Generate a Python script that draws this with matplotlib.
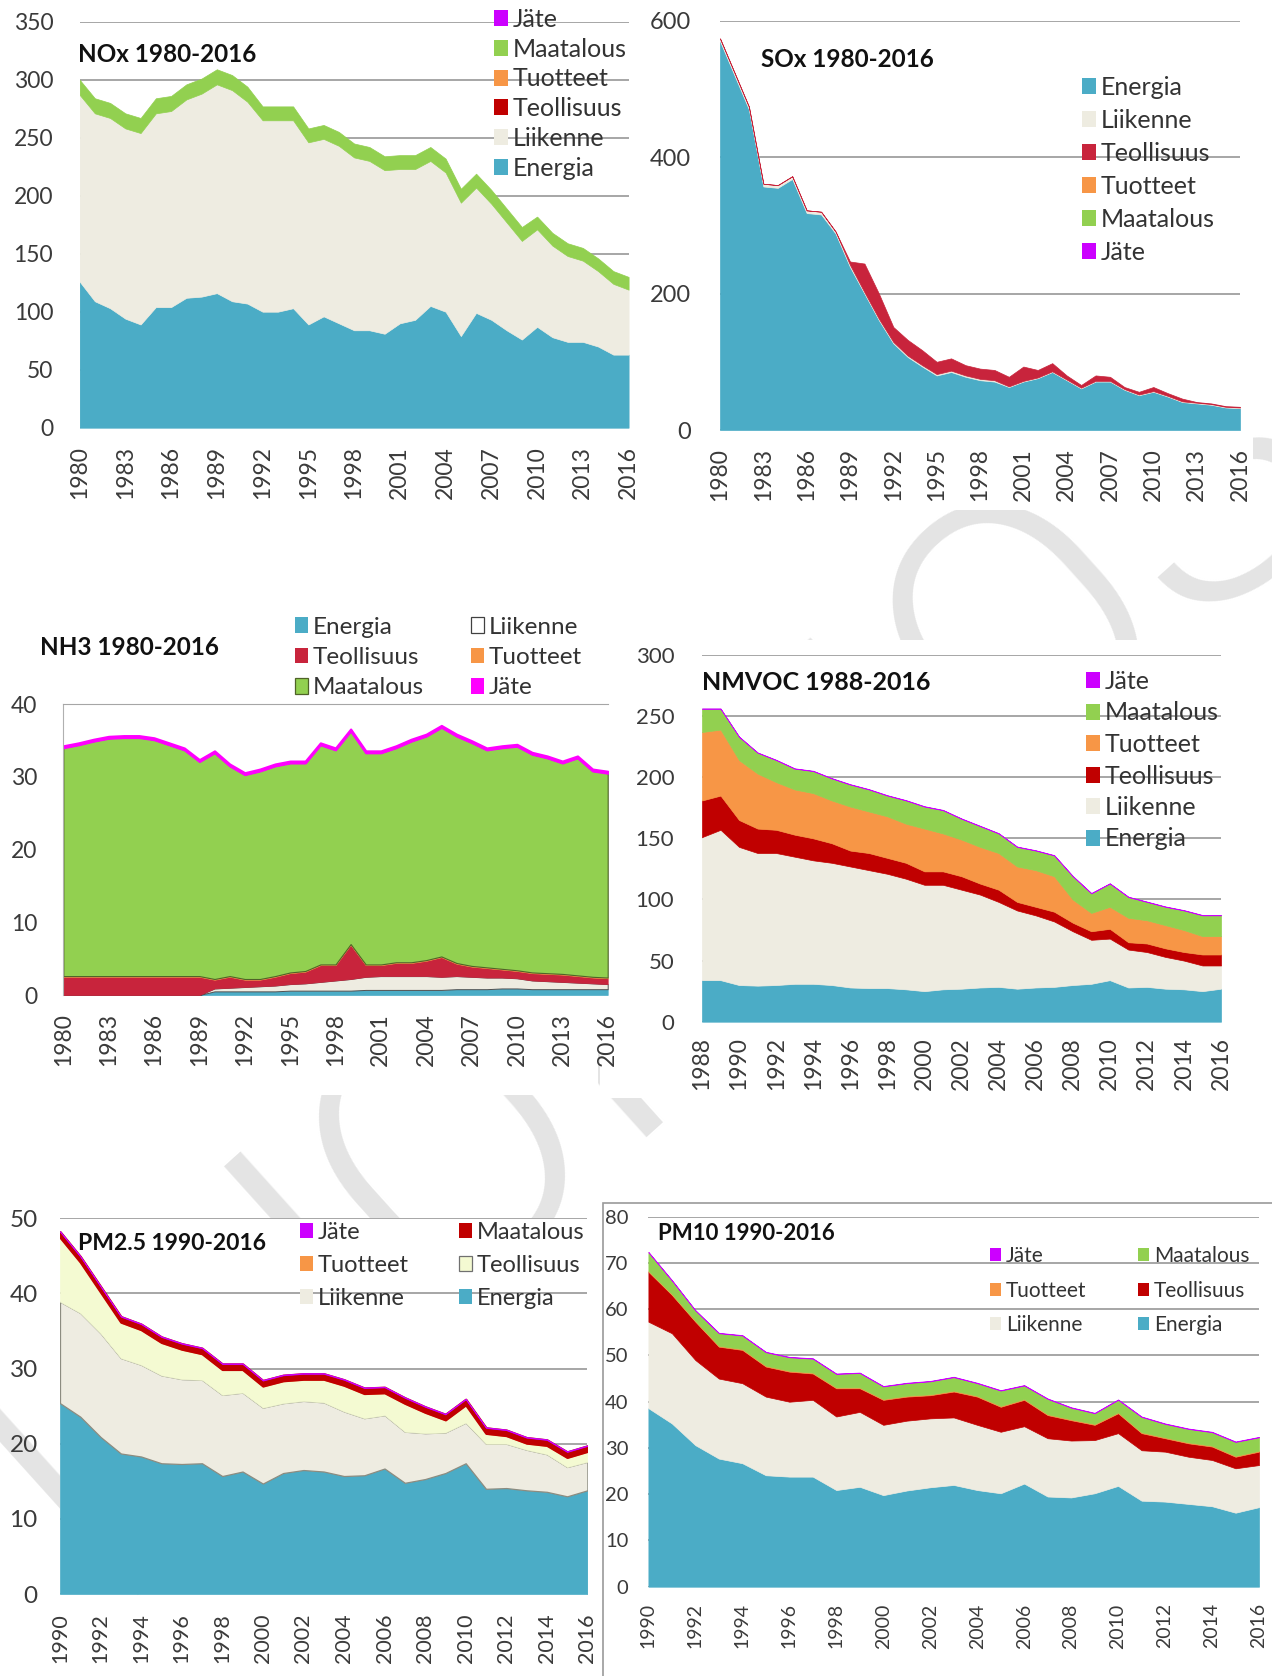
import matplotlib
matplotlib.use('Agg')
import matplotlib.pyplot as plt
from matplotlib.patches import Patch, Rectangle

plt.rcParams['font.family'] = ['Lato', 'DejaVu Sans']

W, H = 1272, 1676

# --- vuodet ---
years_80 = list(range(1980, 2017))
years_88 = list(range(1988, 2017))
years_90 = list(range(1990, 2017))

# --- NOx 1980-2016 (kt) ---
nox_energia = [126, 109, 103, 94, 89, 104, 104, 112, 113, 116,
               109, 107, 100, 100, 103, 89, 96, 90, 84, 84,
               81, 90, 93, 105, 100, 79, 99, 93, 84, 76,
               87, 78, 74, 74, 70, 63, 63]
nox_liikenne = [161, 162, 164, 164, 165, 167, 169, 171, 175, 180,
                182, 174, 165, 165, 162, 157, 153, 153, 149, 146,
                141, 133, 130, 125, 120, 115, 108, 100, 93, 85,
                84, 79, 74, 70, 65, 61, 56]
nox_teollisuus = [0, 0, 0, 0, 0, 0, 0, 0, 0, 0, 0, 0, 0, 0, 0, 0, 0, 0, 0,
                  0, 0, 0, 0, 0, 0, 0, 0, 0, 0, 0, 0, 0, 0, 0, 0, 0, 0]
nox_tuotteet = [0, 0, 0, 0, 0, 0, 0, 0, 0, 0, 0, 0, 0, 0, 0, 0, 0, 0, 0,
                0, 0, 0, 0, 0, 0, 0, 0, 0, 0, 0, 0, 0, 0, 0, 0, 0, 0]
nox_maatalous = [13, 13, 13, 13, 13, 13, 13, 13, 13, 13,
                 13, 13, 12, 12, 12, 12, 12, 12, 12, 12,
                 12, 12, 12, 12, 12, 12, 12, 12, 12, 12,
                 11, 11, 11, 11, 11, 11, 11]
nox_jate = [0, 0, 0, 0, 0, 0, 0, 0, 0, 0, 0, 0, 0, 0, 0, 0, 0, 0, 0,
            0, 0, 0, 0, 0, 0, 0, 0, 0, 0, 0, 0, 0, 0, 0, 0, 0, 0]

# --- SOx 1980-2016 ---
sox_energia = [570, 520, 470, 357, 355, 368, 318, 316, 288, 239,
               200, 161, 127, 107, 93, 80, 85, 78, 73, 71,
               63, 71, 76, 85, 73, 61, 71, 71, 59, 51,
               56, 49, 41, 39, 37, 33, 32]
sox_liikenne = [4, 4, 4, 4, 4, 4, 4, 4, 3, 3,
                2, 2, 2, 2, 2, 2, 2, 2, 2, 2,
                1, 1, 1, 1, 1, 1, 1, 1, 1, 1,
                1, 1, 1, 1, 1, 1, 1]
sox_teollisuus = [0, 0, 0, 0, 0, 0, 0, 0, 0, 5,
                  42, 37, 22, 23, 22, 18, 18, 15, 15, 15,
                  14, 21, 11, 12, 6, 4, 8, 6, 3, 4,
                  6, 4, 4, 1, 1, 1, 1]
sox_tuotteet = [0, 0, 0, 0, 0, 0, 0, 0, 0, 0, 0, 0, 0, 0, 0, 0, 0, 0, 0,
                0, 0, 0, 0, 0, 0, 0, 0, 0, 0, 0, 0, 0, 0, 0, 0, 0, 0]
sox_maatalous = [0, 0, 0, 0, 0, 0, 0, 0, 0, 0, 0, 0, 0, 0, 0, 0, 0, 0, 0,
                 0, 0, 0, 0, 0, 0, 0, 0, 0, 0, 0, 0, 0, 0, 0, 0, 0, 0]
sox_jate = [0, 0, 0, 0, 0, 0, 0, 0, 0, 0, 0, 0, 0, 0, 0, 0, 0, 0, 0,
            0, 0, 0, 0, 0, 0, 0, 0, 0, 0, 0, 0, 0, 0, 0, 0, 0, 0]

# --- NH3 1980-2016 ---
nh3_energia = [0, 0, 0, 0, 0, 0, 0, 0, 0, 0,
               0.5, 0.5, 0.5, 0.5, 0.5, 0.6, 0.6, 0.6, 0.6, 0.6,
               0.7, 0.7, 0.7, 0.7, 0.7, 0.7, 0.8, 0.8, 0.8, 0.9,
               0.9, 0.8, 0.8, 0.8, 0.8, 0.8, 0.8]
nh3_liikenne = [0, 0, 0, 0, 0, 0, 0, 0, 0, 0,
                0.4, 0.5, 0.6, 0.7, 0.8, 0.9, 1.0, 1.2, 1.4, 1.6,
                1.8, 1.9, 1.9, 1.9, 1.9, 1.8, 1.8, 1.7, 1.6, 1.5,
                1.4, 1.2, 1.1, 1.0, 0.9, 0.8, 0.7]
nh3_teollisuus = [2.5, 2.5, 2.5, 2.5, 2.5, 2.5, 2.5, 2.5, 2.5, 2.5,
                  1.2, 1.5, 1.0, 0.9, 1.2, 1.5, 1.6, 2.3, 2.1, 4.7,
                  1.6, 1.5, 1.8, 1.8, 2.1, 2.7, 1.7, 1.4, 1.3, 1.1,
                  1.0, 1.0, 1.0, 1.0, 0.9, 0.8, 0.8]
nh3_tuotteet = [0.1, 0.1, 0.1, 0.1, 0.1, 0.1, 0.1, 0.1, 0.1, 0.1,
                0.1, 0.1, 0.1, 0.1, 0.1, 0.1, 0.1, 0.1, 0.1, 0.1,
                0.1, 0.1, 0.1, 0.1, 0.1, 0.1, 0.1, 0.1, 0.1, 0.1,
                0.1, 0.1, 0.1, 0.1, 0.1, 0.1, 0.1]
nh3_maatalous = [31.4, 31.8, 32.3, 32.7, 32.8, 32.8, 32.5, 31.8, 31.1, 29.5,
                 31.1, 28.9, 28.1, 28.6, 28.9, 28.8, 28.6, 30.2, 29.5, 29.3,
                 29.1, 29.1, 29.5, 30.4, 30.8, 31.5, 31.2, 30.7, 29.9, 30.4,
                 30.8, 30.0, 29.6, 29.0, 29.9, 28.3, 28.1]
nh3_jate = [0.25, 0.25, 0.25, 0.25, 0.25, 0.25, 0.25, 0.25, 0.25, 0.25,
            0.25, 0.25, 0.25, 0.25, 0.25, 0.25, 0.25, 0.25, 0.25, 0.25,
            0.25, 0.25, 0.25, 0.25, 0.25, 0.25, 0.25, 0.25, 0.25, 0.25,
            0.25, 0.25, 0.25, 0.25, 0.25, 0.25, 0.25]

# --- NMVOC 1988-2016 ---
nmvoc_energia = [34, 34, 30, 29.5, 30, 31, 31, 30, 28, 27.5,
                 27.5, 26.5, 25, 26.5, 27, 28, 28.5, 27, 28, 28.5,
                 30, 31, 34, 28, 28.5, 27, 26.5, 25, 27]
nmvoc_liikenne = [117, 123, 113, 108.5, 108, 104, 101, 100, 99, 96.5,
                  93.5, 90.5, 87, 85.5, 81, 76, 69.5, 64, 59, 53.5,
                  44, 36, 34, 31, 28.5, 26, 23.5, 21, 19]
nmvoc_teollisuus = [30, 28, 22, 20, 19, 18, 18, 16, 13, 14,
                    13, 13, 11, 11, 11, 9, 10, 7, 7, 8,
                    7, 7, 8, 6, 7, 7, 7, 9, 9]
nmvoc_tuotteet = [56, 54, 49, 45, 39, 37, 37, 35, 36, 34,
                  34, 32, 35, 31, 30, 30, 30, 29, 30, 29,
                  19, 15, 18, 20, 19, 19, 18, 15, 15]
nmvoc_maatalous = [19, 17, 19, 17, 18, 17, 18, 18, 18, 18,
                   17, 19, 18, 19, 17, 17, 16, 16, 16, 17,
                   19, 16, 19, 17, 15, 15, 16, 17, 17]
nmvoc_jate = [0.3, 0.3, 0.3, 0.3, 0.3, 0.3, 0.3, 0.3, 0.3, 0.3,
              0.3, 0.3, 0.3, 0.3, 0.3, 0.3, 0.3, 0.3, 0.3, 0.3,
              0.3, 0.3, 0.3, 0.3, 0.3, 0.3, 0.3, 0.3, 0.3]

# --- PM2.5 1990-2016 ---
pm25_energia = [25.4, 23.6, 20.9, 18.7, 18.3, 17.4, 17.3, 17.4, 15.7, 16.3,
                14.7, 16.1, 16.5, 16.3, 15.7, 15.8, 16.7, 14.8, 15.3, 16.1,
                17.4, 14.0, 14.1, 13.8, 13.6, 13.0, 13.8]
pm25_liikenne = [13.5, 13.8, 13.8, 12.7, 12.2, 11.7, 11.3, 11.1, 10.8, 10.5,
                 10.1, 9.3, 9.2, 9.2, 8.6, 7.6, 7.1, 6.8, 6.1, 5.4,
                 5.4, 6.0, 5.9, 5.4, 5.0, 3.9, 3.8]
pm25_teollisuus = [8.5, 6.7, 5.4, 4.7, 4.6, 4.3, 3.9, 3.4, 3.3, 3.0,
                   2.8, 2.9, 2.8, 3.0, 3.4, 3.2, 2.9, 3.7, 2.7, 1.6,
                   2.3, 1.3, 1.0, 0.8, 1.1, 1.2, 1.3]
pm25_tuotteet = [0.1, 0.1, 0.1, 0.1, 0.1, 0.1, 0.1, 0.1, 0.1, 0.1,
                 0.1, 0.1, 0.1, 0.1, 0.1, 0.1, 0.1, 0.1, 0.1, 0.1,
                 0.1, 0.1, 0.1, 0.1, 0.1, 0.1, 0.1]
pm25_maatalous = [0.7, 0.7, 0.7, 0.7, 0.7, 0.7, 0.7, 0.7, 0.7, 0.7,
                  0.7, 0.7, 0.7, 0.7, 0.7, 0.7, 0.7, 0.7, 0.7, 0.7,
                  0.7, 0.7, 0.7, 0.7, 0.7, 0.7, 0.7]
pm25_jate = [0.1, 0.1, 0.1, 0.1, 0.1, 0.1, 0.1, 0.1, 0.1, 0.1,
             0.1, 0.1, 0.1, 0.1, 0.1, 0.1, 0.1, 0.1, 0.1, 0.1,
             0.1, 0.1, 0.1, 0.1, 0.1, 0.1, 0.1]

# --- PM10 1990-2016 ---
pm10_energia = [38.6, 35.3, 30.6, 27.7, 26.7, 24.1, 23.8, 23.8, 20.9, 21.6,
                19.8, 20.8, 21.5, 22.0, 20.9, 20.2, 22.3, 19.5, 19.3, 20.2,
                21.8, 18.6, 18.4, 17.9, 17.4, 16.0, 17.2]
pm10_liikenne = [18.7, 19.5, 18.4, 17.3, 17.3, 17.0, 16.2, 16.6, 15.9, 16.2,
                 15.2, 15.1, 14.9, 14.6, 14.1, 13.3, 12.4, 12.6, 12.3, 11.5,
                 11.4, 10.9, 10.8, 10.2, 10.0, 9.6, 9.1]
pm10_teollisuus = [10.8, 8.3, 8.3, 6.9, 7.2, 6.5, 6.5, 5.7, 6.1, 5.1,
                   5.4, 5.2, 5.0, 5.6, 6.1, 5.4, 5.7, 5.0, 4.4, 3.3,
                   4.3, 3.7, 2.9, 2.9, 2.9, 2.5, 2.9]
pm10_tuotteet = [0.2, 0.2, 0.2, 0.2, 0.2, 0.2, 0.2, 0.2, 0.2, 0.2,
                 0.2, 0.2, 0.2, 0.2, 0.2, 0.2, 0.2, 0.2, 0.2, 0.2,
                 0.2, 0.2, 0.2, 0.2, 0.2, 0.2, 0.2]
pm10_maatalous = [4.0, 2.9, 2.2, 2.7, 2.9, 2.9, 2.9, 3.0, 2.9, 3.1,
                  2.7, 2.7, 2.8, 2.9, 2.7, 3.3, 2.9, 3.3, 2.5, 2.3,
                  2.7, 3.3, 2.9, 2.9, 2.9, 3.0, 2.9]
pm10_jate = [0.1, 0.1, 0.1, 0.1, 0.1, 0.1, 0.1, 0.1, 0.1, 0.1,
             0.1, 0.1, 0.1, 0.1, 0.1, 0.1, 0.1, 0.1, 0.1, 0.1,
             0.1, 0.1, 0.1, 0.1, 0.1, 0.1, 0.1]

# värit
C_EN = '#4BACC6'
C_LI = '#EEECE1'
C_TE = '#C00000'
C_TE2 = '#C8243C'
C_TU = '#F79646'
C_MA = '#92D050'
C_JA = '#CC00FF'
C_JA2 = '#FF00FF'
C_YEL = '#F4FAD2'

fig = plt.figure(figsize=(W / 100, H / 100), dpi=100)
fig.patch.set_facecolor('white')


def fx(x):
    return x / W


def fy(y):
    return 1 - y / H


def rect(x0, y0, x1, y1):
    return [fx(x0), fy(y1), (x1 - x0) / W, (y1 - y0) / H]


def panel(box, years, series, colors, ylim, yticks, xticks, ysize, xsize,
          ypad, xpad, fam=None):
    ax = fig.add_axes(box)
    polys = ax.stackplot(years, *series, colors=colors,
                         edgecolor='face', linewidth=0.5)
    # tyhjille sarjoille ei reunaviivaa
    for poly, vals in zip(polys, series):
        if max(vals) == 0:
            poly.set_linewidth(0)
    ax.set_xlim(years[0], years[-1])
    ax.set_ylim(*ylim)
    ax.set_yticks(yticks)
    ax.set_xticks(xticks)
    ax.set_xticklabels([str(t) for t in xticks], rotation=90)
    ax.tick_params(axis='y', length=0, pad=ypad, labelsize=ysize,
                   labelcolor='#3a3a3a')
    ax.tick_params(axis='x', length=0, pad=xpad, labelsize=xsize,
                   labelcolor='#3a3a3a')
    if fam:
        for lab in ax.get_xticklabels() + ax.get_yticklabels():
            lab.set_family(fam)
    for s in ax.spines.values():
        s.set_visible(False)
    ax.yaxis.grid(True, color='#a6a6a6', lw=1.4)
    ax.set_axisbelow(True)
    return ax, polys


def legend(x, y, labels, colors, size, spacing, edges=None, fam=None):
    if edges is None:
        edges = [None] * len(labels)
    handles = [Patch(facecolor=c, edgecolor=(e if e else c),
                     linewidth=(0.9 if e else 0)) for c, e in zip(colors, edges)]
    prop = {'size': size}
    if fam:
        prop['family'] = fam
    lg = fig.legend(handles, labels, loc='upper left',
                    bbox_to_anchor=(fx(x), fy(y)), frameon=False,
                    borderpad=0, borderaxespad=0, prop=prop,
                    labelspacing=spacing, handlelength=0.55,
                    handleheight=0.6, handletextpad=0.2)
    for t in lg.get_texts():
        t.set_color('#333333')
    return lg


def title(x, y, s, size, fam=None):
    kw = {}
    if fam:
        kw['family'] = fam
    fig.text(fx(x), fy(y), s, fontsize=size, fontweight='bold',
             ha='left', va='baseline', color='#111111', **kw)


# vesileima ja kuvien taustat
fig.text(fx(660), fy(960), 'LUONNOS', fontsize=265, color='#e4e4e4',
         rotation=42, rotation_mode='anchor', ha='center', va='center',
         family=['Roboto', 'Lato', 'DejaVu Sans'], fontweight=300, zorder=-2)
for (x0, y0, x1, y1) in [(640, 0, 1253, 510), (0, 612, 598, 1095),
                         (600, 640, 1237, 1098)]:
    fig.add_artist(Rectangle((fx(x0), fy(y1)), (x1 - x0) / W, (y1 - y0) / H,
                             transform=fig.transFigure, facecolor='white',
                             edgecolor='none', zorder=-1))
fig.add_artist(Rectangle((fx(603), fy(1690)), (1290 - 603) / W, (1690 - 1203) / H,
                         transform=fig.transFigure, facecolor='white',
                         edgecolor='#9a9a9a', lw=1.2, zorder=-1))

# ---- NOx ----
ax, p = panel(rect(79.6, 21.7, 628.6, 427.7), years_80,
              [nox_energia, nox_liikenne, nox_teollisuus, nox_tuotteet,
               nox_maatalous, nox_jate],
              [C_EN, C_LI, C_TE, C_TU, C_MA, C_JA],
              (0, 350), range(0, 351, 50), range(1980, 2017, 3),
              16.5, 16.5, 19, 13)
title(78, 61.7, 'NOx 1980-2016', 17.5)
legend(494, 8, ['Jäte', 'Maatalous', 'Tuotteet', 'Teollisuus', 'Liikenne', 'Energia'],
       [C_JA, C_MA, C_TU, C_TE, C_LI, C_EN], 18, 0.27)

# ---- SOx ----
ax, p = panel(rect(720, 20.7, 1240, 430), years_80,
              [sox_energia, sox_liikenne, sox_teollisuus, sox_tuotteet,
               sox_maatalous, sox_jate],
              [C_EN, C_LI, C_TE2, C_TU, C_MA, C_JA],
              (0, 600), range(0, 601, 200), range(1980, 2017, 3),
              17, 16.5, 21, 13)
title(761, 66.7, 'SOx 1980-2016', 17.5)
legend(1082, 76, ['Energia', 'Liikenne', 'Teollisuus', 'Tuotteet', 'Maatalous', 'Jäte'],
       [C_EN, C_LI, C_TE2, C_TU, C_MA, C_JA], 18, 0.4)

# ---- NH3 ----
ax, p = panel(rect(63.3, 704, 607.7, 995), years_80,
              [nh3_energia, nh3_liikenne, nh3_teollisuus, nh3_tuotteet,
               nh3_maatalous, nh3_jate],
              [C_EN, C_LI, C_TE2, C_TU, C_MA, C_JA2],
              (0, 40), range(0, 41, 10), range(1980, 2017, 3),
              16.5, 16.5, 18.5, 13)
p[1].set_edgecolor('#505050')
p[1].set_linewidth(0.7)
p[4].set_edgecolor('#4F6228')
p[4].set_linewidth(0.8)
p[5].set_edgecolor(C_JA2)
p[5].set_linewidth(1.6)
ax.spines['left'].set_visible(True)
ax.spines['left'].set_color('#b0b0b0')
ax.spines['top'].set_visible(True)
ax.spines['top'].set_color('#a6a6a6')
title(39.5, 655, 'NH3 1980-2016', 17.5)
legend(294.6, 616.5, ['Energia', 'Teollisuus', 'Maatalous'],
       [C_EN, C_TE2, C_MA], 17.5, 0.39, edges=[None, None, '#4F6228'])
legend(470.5, 616.5, ['Liikenne', 'Tuotteet', 'Jäte'],
       ['white', C_TU, C_JA2], 17.5, 0.39, edges=['#404040', None, None])

# ---- NMVOC ----
ax, p = panel(rect(702, 655, 1221, 1021.7), years_88,
              [nmvoc_energia, nmvoc_liikenne, nmvoc_teollisuus, nmvoc_tuotteet,
               nmvoc_maatalous, nmvoc_jate],
              [C_EN, C_LI, C_TE, C_TU, C_MA, C_JA],
              (0, 300), range(0, 301, 50), range(1988, 2017, 2),
              16, 16.5, 20, 11)
title(702, 690, 'NMVOC 1988-2016', 18)
legend(1086, 670, ['Jäte', 'Maatalous', 'Tuotteet', 'Teollisuus', 'Liikenne', 'Energia'],
       [C_JA, C_MA, C_TU, C_TE, C_LI, C_EN], 18, 0.34)

# ---- PM2.5 ----
ax, p = panel(rect(60, 1218.3, 587.4, 1594), years_90,
              [pm25_energia, pm25_liikenne, pm25_teollisuus, pm25_tuotteet,
               pm25_maatalous, pm25_jate],
              [C_EN, C_LI, C_YEL, C_TU, C_TE, C_JA],
              (0, 50), range(0, 51, 10), range(1990, 2017, 2),
              17.5, 15.5, 16, 14)
p[1].set_edgecolor('#8c8c80')
p[1].set_linewidth(0.9)
p[4].set_edgecolor(C_TE)
p[4].set_linewidth(1.8)
title(78.5, 1250, 'PM2.5 1990-2016', 16.5)
legend(300, 1222, ['Jäte', 'Tuotteet', 'Liikenne'],
       [C_JA, C_TU, C_LI], 17, 0.51)
legend(459, 1222, ['Maatalous', 'Teollisuus', 'Energia'],
       [C_TE, C_YEL, C_EN], 17, 0.51, edges=[None, '#707070', None])

# ---- PM10 ----
narrow = ['Liberation Sans Narrow', 'Lato', 'DejaVu Sans']
ax, p = panel(rect(648.4, 1216.7, 1259, 1586.7), years_90,
              [pm10_energia, pm10_liikenne, pm10_teollisuus, pm10_tuotteet,
               pm10_maatalous, pm10_jate],
              [C_EN, C_LI, C_TE, C_TU, C_MA, C_JA],
              (0, 80), range(0, 81, 10), range(1990, 2017, 2),
              14.5, 14, 14.5, 12, fam=narrow)
title(658, 1240, 'PM10 1990-2016', 16, fam=narrow)
legend(990, 1246, ['Jäte', 'Tuotteet', 'Liikenne'],
       [C_JA, C_TU, C_LI], 15, 0.7, fam=narrow)
legend(1138, 1246, ['Maatalous', 'Teollisuus', 'Energia'],
       [C_MA, C_TE, C_EN], 15, 0.7, fam=narrow)

fig.savefig('out.png', dpi=100, facecolor='white')
